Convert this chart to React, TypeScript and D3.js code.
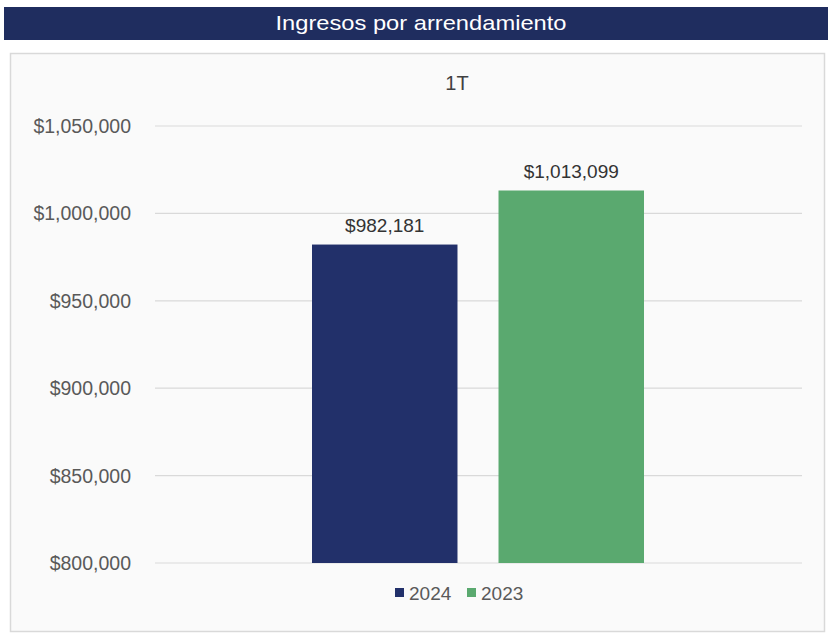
import React from "react";
import * as d3 from "d3";

const categories = ["1T"];
const seriesNames = ["2024", "2023"];
const seriesValues = [982181, 1013099];
const yTicks = [800000, 850000, 900000, 950000, 1000000, 1050000];
const colors = ["#22306a", "#5aa96f"];

const W = 828;
const H = 636;
const font = "'Liberation Sans', Arial, Helvetica, sans-serif";

export default function App() {
  const plotLeft = 155;
  const plotRight = 802;
  const y = d3.scaleLinear().domain([800000, 1050000]).range([563, 126]);
  const x0 = d3.scaleBand().domain(categories).range([plotLeft, plotRight]);
  const x1 = d3
    .scaleBand()
    .domain(seriesNames)
    .range([312 - plotLeft, 644 - plotLeft])
    .paddingInner(0.22);
  const fmt = (v: number) => "$" + d3.format(",")(v);
  const legendX = [395, 467];

  return (
    <svg
      width={W}
      height={H}
      style={{ position: "absolute", left: 0, top: 0, background: "#ffffff" }}
      fontFamily={font}
    >
      <rect x={4} y={7} width={824} height={33} fill="#1f2d5f" />
      <text x={421} y={30} fill="#ffffff" fontSize={21} textAnchor="middle" textLength={291} lengthAdjust="spacingAndGlyphs">
        Ingresos por arrendamiento
      </text>
      <rect x={10.5} y={53.5} width={814} height={578} fill="#fafafa" stroke="#d9d9d9" strokeWidth={1.5} />
      <text x={457} y={90} fontSize={20} fill="#404040" textAnchor="middle">
        {categories[0]}
      </text>
      {yTicks.map((t) => (
        <g key={t}>
          <line x1={plotLeft} x2={plotRight} y1={y(t)} y2={y(t)} stroke="#d9d9d9" strokeWidth={1.2} />
          <text x={131} y={y(t) + 7} fontSize={19.5} fill="#595959" textAnchor="end">
            {fmt(t)}
          </text>
        </g>
      ))}
      {categories.map((c) =>
        seriesNames.map((s, i) => {
          const bx = (x0(c) ?? 0) + (x1(s) ?? 0);
          const bw = x1.bandwidth();
          const v = seriesValues[i];
          return (
            <g key={s}>
              <rect x={bx} y={y(v)} width={bw} height={y(800000) - y(v)} fill={colors[i]} />
              <text x={bx + bw / 2} y={y(v) - 13} fontSize={19} fill="#333333" textAnchor="middle">
                {fmt(v)}
              </text>
            </g>
          );
        })
      )}
      {seriesNames.map((s, i) => (
        <g key={s}>
          <rect x={legendX[i]} y={588} width={9} height={9} fill={colors[i]} />
          <text x={legendX[i] + 14} y={600} fontSize={19} fill="#595959">
            {s}
          </text>
        </g>
      ))}
    </svg>
  );
}
